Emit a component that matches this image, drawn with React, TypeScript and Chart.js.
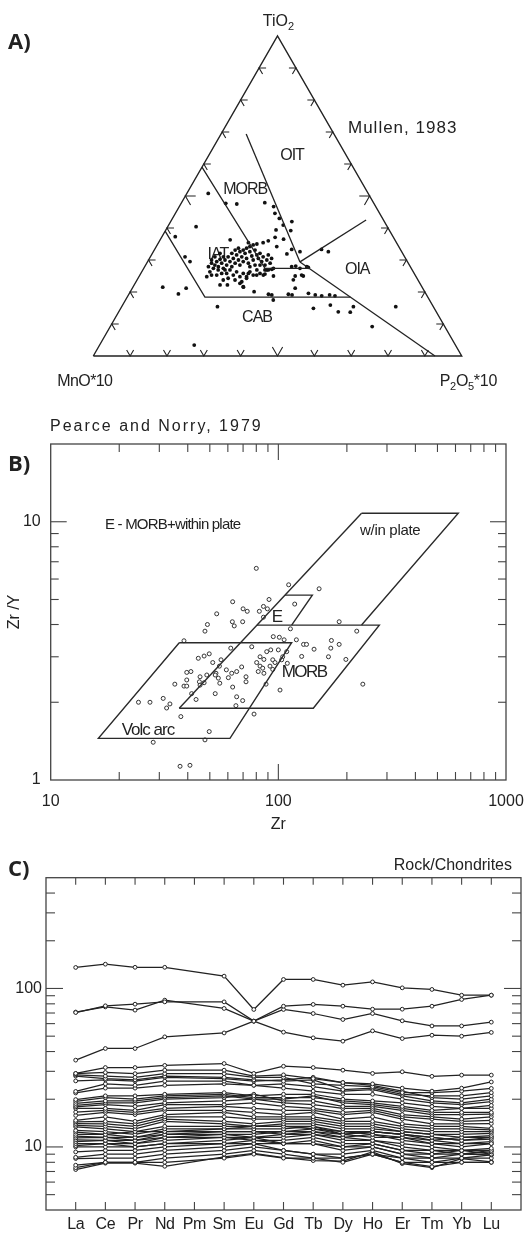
import React, { useEffect, useRef } from "react";
import { Chart, registerables } from "chart.js";

Chart.register(...registerables);

const PAGE_W = 527;
const SQ = Math.sqrt(3) / 2;
const INK = "#222222";
const SANS = '"Liberation Sans", Arial, Helvetica, sans-serif';
const LETTER_FONT = '"Open Sans", "Liberation Sans", sans-serif';

/* ---------------- Panel A : Mullen (1983) TiO2 - MnO*10 - P2O5*10 ---------------- */
// sample compositions, percent of TiO2 and P2O5*10 (MnO*10 = 100 - both)
const mullenTiO2 = [
  50.8, 47.7, 47.5, 47.9, 46.7, 44.6, 43.0, 42.0, 40.9, 39.4, 39.2, 40.4, 37.3, 37.1, 36.0, 36.5, 34.2, 35.4, 35.0, 35.4,
  36.3, 33.3, 32.6, 33.3, 32.6, 31.0, 29.5, 31.9, 27.7, 25.0, 28.1, 25.0, 27.1, 25.0, 25.6, 21.5, 19.4, 21.2, 22.2, 22.2,
  21.5, 20.1, 21.2, 19.1, 19.1, 19.1, 18.8, 19.1, 18.8, 17.5, 15.4, 14.9, 15.9, 15.4, 15.4, 9.2, 13.7, 13.8, 3.4, 19.3,
  19.3, 19.6, 23.8, 25.3, 23.2, 24.8, 25.8, 25.3, 25.3, 26.9, 27.4, 27.9, 27.4, 27.9,
  24.8, 26.3, 27.9, 29.0, 27.4, 28.4, 29.5, 27.9, 30.2, 29.0, 27.4, 30.0, 28.4, 31.0, 29.5, 27.9, 30.5, 29.0, 31.6, 30.0,
  28.4, 31.0, 29.5, 32.1, 30.5, 29.0, 32.6, 31.25, 30.0, 33.1, 31.6, 30.5, 32.1, 29.5, 31.0, 28.4, 30.0, 31.6, 29.0, 30.5,
  32.6, 33.1, 33.7, 34.2, 34.7, 25.8, 26.9, 25.3, 26.3, 24.8, 25.8, 24.3, 26.3, 25.3, 26.9, 25.8, 25.3, 25.8, 23.75, 24.3,
  23.75, 22.7, 21.7, 32.1, 31.0, 31.0, 26.9, 25.3, 26.9, 32.1, 33.1, 33.7, 27.9, 28.4, 28.4, 26.9, 26.9, 30.0,
];
const mullenP2O5 = [
  5.8, 12.1, 15.2, 22.6, 25.6, 27.0, 29.0, 32.9, 31.1, 29.9, 34.0, 7.7, 3.6, 30.8, 29.5, 33.4, 32.7, 28.4, 26.9, 24.4,
  19.0, 37.2, 39.8, 45.3, 47.5, 9.4, 11.5, 36.6, 44.5, 44.5, 40.9, 42.3, 34.9, 36.4, 33.8, 8.1, 13.4, 14.6, 23.3, 25.3,
  30.0, 33.6, 44.2, 38.9, 44.4, 50.7, 52.6, 54.6, 56.2, 40.1, 26.0, 52.3, 56.4, 62.9, 74.4, 71.1, 62.9, 59.6, 25.7, 37.9,
  43.3, 48.6, 42.4, 43.9, 28.7, 29.2, 29.2, 31.7, 33.5, 33.6, 35.2, 39.9, 42.4, 44.0,
  18.4, 18.5, 17.3, 17.6, 18.9, 18.8, 18.75, 20.0, 19.3, 20.35, 21.6, 20.75, 22.0, 21.1, 22.35, 23.65, 22.75, 24.0, 23.1, 24.4,
  25.6, 24.8, 25.95, 25.15, 26.35, 27.6, 26.2, 27.4, 28.4, 27.35, 28.6, 29.55, 29.2, 30.95, 30.6, 32.4, 32.1, 31.7, 33.5, 33.15,
  23.5, 24.15, 24.75, 25.4, 26.05, 23.3, 23.65, 25.35, 25.75, 27.4, 27.8, 29.45, 29.35, 30.75, 30.95, 32.35, 20.85, 21.95, 23.4, 24.45,
  26.6, 28.45, 29.85, 18.35, 19.8, 17.5, 20.45, 19.45, 22.3, 21.55, 21.95, 22.55, 28.55, 29.7, 31.05, 33.15, 34.05, 17.1,
];
// field boundaries as [TiO2 %, P2O5*10 %]
const mullenOitMorb = [[69.4, 6.8], [29.4, 41.4]];
const mullenOitOia = [[29.4, 41.4], [42.5, 52.8]];
const mullenOiaCab = [[29.4, 41.4], [0, 92.75]];
const mullenMorbIat = [[59, 0], [27.4, 32.9], [27.4, 44.9]];
const mullenIatCab = [[39, 0], [18.4, 21.1], [18.4, 60.6]];
const mullenFieldNames = ["OIT", "MORB", "IAT", "OIA", "CAB"];
const mullenFieldTiO2 = [62.5, 51.9, 31.6, 26.9, 11.9];
const mullenFieldP2O5 = [22.7, 15.3, 18.0, 58.2, 38.5];
const ternTickPct = [10, 20, 30, 40, 50, 60, 70, 80, 90];

/* ---------------- Panel B : Pearce & Norry (1979) Zr/Y vs Zr ---------------- */
const zrPpm = [
  80, 111, 151, 63, 70, 73, 91, 86, 89.5, 82.5, 118, 53.6, 62.8, 69.7, 64, 48.8, 47.6, 86, 113, 185,
  221, 38.5, 95, 101, 106, 120, 129, 133, 171, 185, 143.5, 170, 76.4, 61.8, 88.9, 92.6, 100, 108.8, 104.5, 126.6,
  166, 198, 83.1, 86.4, 94.5, 96.7, 80.3, 83.1, 85.4, 81.6, 86.4, 91.9, 94.5, 103.4, 109.5, 49.7, 47.2, 44.5, 51.5, 56,
  55.1, 53.2, 59.1, 62.4, 60.3, 69, 65.6, 72.1, 72.1, 63, 52.8, 54.5, 55.3, 45.3, 45, 48.5, 41.3, 39.6, 39.6, 38.5,
  39.6, 35.1, 45.3, 47.2, 41.6, 52.8, 43.5, 65.6, 69.7, 65.1, 88.3, 101.7, 235, 24.3, 27.3, 31.2, 33.4, 32.3, 37.3, 78.2,
  49.7, 47.6, 28.2, 37, 40.9,
];
const zrOverY = [
  6.6, 5.7, 5.5, 4.9, 4.6, 4.5, 5.0, 4.7, 4.6, 4.5, 4.8, 4.4, 4.1, 4.1, 3.95, 4.0, 3.77, 4.27, 3.85, 4.1,
  3.77, 3.46, 3.59, 3.57, 3.49, 3.49, 3.35, 3.35, 3.47, 3.35, 3.21, 3.24, 3.28, 3.24, 3.14, 3.19, 3.19, 3.14, 3.0, 3.01,
  3.0, 2.93, 3.0, 2.93, 2.92, 2.85, 2.85, 2.76, 2.71, 2.63, 2.59, 2.76, 2.68, 2.92, 2.83, 3.08, 3.02, 2.96, 2.85, 2.92,
  2.76, 2.59, 2.67, 2.59, 2.49, 2.74, 2.63, 2.51, 2.40, 2.29, 2.55, 2.48, 2.37, 2.51, 2.40, 2.55, 2.63, 2.61, 2.44, 2.31,
  2.31, 2.35, 2.33, 2.38, 2.16, 2.16, 2.05, 2.10, 2.03, 1.94, 2.35, 2.23, 2.35, 2.0, 2.0, 2.07, 1.97, 1.90, 1.76, 1.80,
  1.54, 1.43, 1.40, 1.13, 1.14,
];
// field boundaries as [Zr ppm, Zr/Y]
const pnLongEdge = [[36.7, 1.896], [232, 10.78]];
const pnWithinPlate = [[232, 10.78], [617, 10.78], [232, 3.98]];
const pnMorb = [[80.5, 3.98], [277.6, 3.98], [142.4, 1.896], [36.7, 1.896]];
const pnEField = [[107, 5.2], [141, 5.2], [114.4, 3.98]];
const pnVolcArc = [[36.7, 3.4], [114.4, 3.4], [61.3, 1.45], [16.2, 1.45], [36.7, 3.4]];
const zrTicks = [20, 30, 40, 50, 60, 70, 80, 90, 100, 200, 300, 400, 500, 600, 700, 800, 900];
const zrYTicks = [2, 3, 4, 5, 6, 7, 8, 9, 10];
const zrLabels = [10, 100, 1000];
const zrYLabels = [1, 10];

/* ---------------- Panel C : REE normalised to chondrites ---------------- */
const reeElements = ["La", "Ce", "Pr", "Nd", "Pm", "Sm", "Eu", "Gd", "Tb", "Dy", "Ho", "Er", "Tm", "Yb", "Lu"];
// values for La Ce Pr Nd Sm Eu Gd Tb Dy Ho Er Tm Yb Lu (Pm not analysed)
const reeHigh = [
  [135.7, 142.3, 136, 136, 119.6, 73.7, 114, 114, 104.9, 110, 100.9, 98.6, 90.7, 90.7],
  [70.5, 77.7, 79.6, 82.3, 82.3, 62.2, 77.3, 79.3, 77.3, 74, 74, 77.3, 85.2, 90.7],
  [71, 76.5, 73, 84.4, 74.8, 62.2, 53, 48.8, 46.5, 54, 48.3, 50.7, 50, 52.8],
  [35.3, 41.8, 41.8, 49.5, 52.4, 62.2, 73.7, 69.5, 63.7, 69.5, 62.5, 58, 58, 61.3],
  [29.1, 31.7, 31.7, 32.7, 33.6, 29.1, 32.3, 31.7, 30.5, 29.1, 29.8, 27.9, 28.4, 28.4],
];
const reeLow = [
  [29.0, 29.5, 29.0, 30.5, 30.5, 28.0, 28.5, 27.0, 25.5, 25.0, 23.5, 22.5, 23.5, 25.7],
  [28.5, 28.0, 27.5, 29.0, 29.0, 27.5, 27.5, 25.0, 24.5, 24.0, 22.0, 22.0, 22.5, 23.4],
  [28.0, 27.0, 26.5, 28.0, 27.5, 26.5, 26.0, 26.5, 23.0, 23.5, 21.5, 21.0, 21.0, 22.0],
  [26.1, 26.5, 26.0, 27.5, 27.0, 26.0, 26.5, 27.5, 25.5, 24.5, 22.5, 20.5, 20.0, 21.0],
  [22.4, 25.0, 24.5, 26.0, 26.0, 24.5, 25.0, 24.0, 22.5, 23.0, 21.0, 19.5, 19.0, 20.0],
  [21.9, 23.5, 23.5, 24.5, 25.0, 24.5, 23.5, 22.5, 21.5, 21.5, 20.0, 19.0, 18.5, 19.3],
  [19.9, 21.0, 21.0, 21.5, 22.0, 21.0, 21.5, 21.5, 20.0, 19.5, 19.0, 18.0, 17.5, 18.3],
  [19.4, 20.5, 20.0, 21.0, 21.5, 20.5, 20.5, 20.5, 19.5, 19.0, 18.0, 17.0, 17.5, 17.5],
  [18.8, 19.5, 19.5, 20.5, 21.0, 20.0, 20.0, 21.0, 19.0, 18.5, 17.5, 16.5, 16.5, 16.5],
  [18.3, 19.0, 19.0, 20.0, 20.5, 21.5, 19.5, 19.5, 18.0, 18.0, 17.0, 16.0, 16.0, 16.1],
  [17.9, 18.5, 18.0, 19.0, 19.5, 20.0, 19.0, 18.5, 17.5, 17.5, 16.0, 15.5, 15.0, 15.5],
  [17.5, 17.5, 17.0, 18.5, 18.5, 19.0, 18.0, 17.5, 16.5, 17.0, 15.5, 15.0, 14.5, 14.7],
  [16.6, 17.0, 16.5, 17.5, 18.0, 17.5, 17.0, 17.0, 16.0, 16.5, 15.0, 14.0, 14.0, 14.05],
  [15.8, 16.5, 16.0, 17.0, 17.0, 16.5, 16.0, 16.5, 15.0, 15.5, 14.0, 13.5, 13.5, 13.1],
  [14.7, 15.5, 14.5, 16.0, 16.5, 15.5, 15.5, 15.5, 14.5, 14.5, 13.5, 13.0, 13.0, 12.8],
  [14.4, 14.5, 14.0, 15.5, 15.5, 15.0, 15.0, 15.0, 14.0, 14.0, 13.0, 12.5, 12.5, 12.5],
  [14.05, 14.0, 13.5, 15.0, 14.5, 14.0, 14.5, 14.5, 13.5, 13.5, 12.5, 12.0, 12.0, 12.2],
  [13.7, 13.5, 13.0, 14.5, 14.0, 13.5, 14.0, 14.0, 13.0, 13.0, 12.5, 12.0, 11.5, 11.8],
  [13.4, 13.0, 12.5, 13.5, 13.5, 13.5, 13.5, 13.5, 12.5, 12.5, 12.0, 11.5, 11.0, 11.5],
  [12.7, 12.5, 12.0, 13.0, 13.0, 13.0, 13.0, 13.5, 12.0, 12.5, 12.0, 11.5, 11.0, 11.2],
  [12.4, 12.0, 12.5, 12.5, 13.0, 13.5, 13.5, 13.0, 12.5, 12.0, 11.5, 11.0, 10.5, 10.5],
  [12.0, 12.0, 11.5, 12.5, 12.5, 12.5, 12.5, 13.0, 12.0, 12.5, 12.0, 11.0, 11.5, 11.5],
  [11.7, 11.5, 11.5, 12.0, 12.5, 12.5, 12.0, 12.5, 11.5, 12.0, 11.0, 10.5, 10.5, 10.8],
  [11.4, 11.5, 11.0, 12.0, 12.0, 12.0, 12.5, 12.5, 12.0, 11.5, 11.5, 10.5, 10.0, 10.5],
  [11.1, 11.0, 11.0, 11.5, 12.0, 11.5, 12.0, 12.0, 11.5, 11.0, 10.5, 10.0, 9.5, 9.8],
  [10.8, 11.0, 10.5, 11.5, 11.5, 11.5, 11.5, 12.0, 11.0, 11.0, 10.0, 9.5, 9.5, 9.5],
  [10.5, 10.5, 10.5, 11.0, 11.5, 11.0, 11.0, 11.5, 10.5, 10.5, 9.5, 9.5, 9.0, 9.3],
  [10.2, 10.5, 10.0, 10.5, 11.0, 11.5, 10.5, 11.0, 10.0, 10.5, 9.5, 9.0, 9.5, 9.0],
  [10.0, 10.0, 10.0, 10.5, 10.5, 10.5, 10.5, 10.5, 10.0, 10.0, 9.0, 9.0, 9.0, 8.9],
  [9.3, 9.5, 9.5, 10.0, 10.5, 11.0, 10.5, 10.5, 9.5, 10.0, 9.0, 8.5, 9.0, 9.5],
  [8.6, 9.0, 9.0, 9.5, 10.0, 10.5, 9.5, 9.0, 9.0, 9.5, 8.5, 8.5, 8.5, 8.5],
  [8.45, 8.5, 8.5, 9.0, 9.5, 10.0, 9.5, 9.0, 8.5, 9.0, 8.5, 8.0, 8.5, 8.9],
  [7.67, 8.0, 8.0, 8.5, 9.0, 9.5, 9.0, 8.5, 8.5, 9.0, 8.0, 8.0, 8.0, 8.0],
  [7.4, 8.0, 8.0, 8.0, 8.5, 9.0, 8.5, 8.5, 8.0, 9.0, 8.0, 7.5, 8.0, 8.0],
  [7.2, 7.9, 7.9, 7.55, 8.65, 9.1, 8.55, 8.2, 8.15, 9.3, 7.85, 7.4, 8.45, 8.05],
];
const reeYTicks = [5, 6, 7, 8, 9, 10, 20, 30, 40, 50, 60, 70, 80, 90, 100, 200, 300, 400];
const reeYLabels = [10, 100];

/* ---------------- helpers ---------------- */
type TextOpts = {
  size?: number; bold?: boolean; family?: string; align?: CanvasTextAlign;
  baseline?: CanvasTextBaseline; spacing?: number; color?: string;
};
function drawText(ctx: CanvasRenderingContext2D, s: string, x: number, y: number, o: TextOpts = {}) {
  ctx.save();
  ctx.font = `${o.bold ? "bold " : ""}${o.size ?? 16}px ${o.family ?? SANS}`;
  ctx.textAlign = o.align ?? "left";
  ctx.textBaseline = o.baseline ?? "alphabetic";
  (ctx as any).letterSpacing = `${o.spacing ?? 0}px`;
  ctx.fillStyle = o.color ?? INK;
  ctx.fillText(s, x, y);
  ctx.restore();
}
function drawRich(ctx: CanvasRenderingContext2D, parts: [string, boolean][], x: number, y: number, size: number, align: "left" | "center" = "left", spacing = 0) {
  ctx.save();
  ctx.textAlign = "left";
  ctx.textBaseline = "alphabetic";
  (ctx as any).letterSpacing = `${spacing}px`;
  ctx.fillStyle = INK;
  const sub = Math.round(size * 0.7);
  let w = 0;
  for (const [t, s] of parts) {
    ctx.font = `${s ? sub : size}px ${SANS}`;
    w += ctx.measureText(t).width;
  }
  let cx = align === "center" ? x - w / 2 : x;
  for (const [t, s] of parts) {
    ctx.font = `${s ? sub : size}px ${SANS}`;
    ctx.fillText(t, cx, s ? y + size * 0.28 : y);
    cx += ctx.measureText(t).width;
  }
  ctx.restore();
}
function seg(ctx: CanvasRenderingContext2D, x1: number, y1: number, x2: number, y2: number) {
  ctx.beginPath();
  ctx.moveTo(x1, y1);
  ctx.lineTo(x2, y2);
  ctx.stroke();
}
function tern(t: number, p: number) {
  return { x: (p + t / 2) / 100, y: (t / 100) * SQ };
}
const baseOptions = (padding: any, scales: any) => ({
  responsive: false,
  animation: false,
  events: [],
  devicePixelRatio: 1,
  layout: { padding },
  scales,
  plugins: { legend: { display: false }, tooltip: { enabled: false } },
});

/* ---------------- Panel A config ---------------- */
const annotA = {
  id: "annotA",
  beforeDatasetsDraw(chart: any) {
    const { ctx } = chart;
    const { x, y } = chart.scales;
    mullenFieldNames.forEach((name, i) => {
      const p = tern(mullenFieldTiO2[i], mullenFieldP2O5[i]);
      drawText(ctx, name, x.getPixelForValue(p.x), y.getPixelForValue(p.y), { size: 16, align: "center", baseline: "middle", spacing: -1 });
    });
  },
  afterDraw(chart: any) {
    const { ctx } = chart;
    const { x, y } = chart.scales;
    const apexX = x.getPixelForValue(0.5), apexY = y.getPixelForValue(SQ);
    const baseY = y.getPixelForValue(0);
    drawRich(ctx, [["TiO", false], ["2", true]], apexX + 1, apexY - 10, 16, "center");
    drawText(ctx, "MnO*10", x.getPixelForValue(0) - 36, baseY + 30, { size: 16, spacing: -0.6 });
    drawRich(ctx, [["P", false], ["2", true], ["O", false], ["5", true], ["*10", false]], x.getPixelForValue(1) - 22, baseY + 30, 16, "left", -0.3);
    drawText(ctx, "Mullen, 1983", 348, 133, { size: 17, spacing: 1 });
    drawText(ctx, "A)", 8, 49, { size: 22, bold: true, family: LETTER_FONT });
  },
};
function buildA() {
  const lineSet = (pts: any[], w = 1.3) => ({
    data: pts, showLine: true, borderColor: INK, borderWidth: w, pointRadius: 0, pointHoverRadius: 0, clip: false, spanGaps: false,
  });
  const pairs = (arr: number[][]) => arr.map(([t, p]) => tern(t, p));
  const gap = { x: 0, y: null };
  const tickPts: any[] = [];
  ternTickPct.forEach((f) => {
    const L = f === 50 ? 0.028 : 0.019;
    const b = tern(0, f);
    tickPts.push({ x: b.x - 0.5 * L, y: b.y + SQ * L }, b, { x: b.x + 0.5 * L, y: b.y + SQ * L }, gap);
    const l = tern(f, 0);
    tickPts.push({ x: l.x + L, y: l.y }, l, { x: l.x + 0.5 * L, y: l.y - SQ * L }, gap);
    const r = tern(f, 100 - f);
    tickPts.push({ x: r.x - L, y: r.y }, r, { x: r.x - 0.5 * L, y: r.y - SQ * L }, gap);
  });
  return {
    type: "scatter",
    data: {
      datasets: [
        lineSet([tern(0, 0), tern(100, 0), tern(0, 100), tern(0, 0)], 1.4),
        lineSet(tickPts, 1.1),
        lineSet(pairs(mullenOitMorb)),
        lineSet(pairs(mullenOitOia)),
        lineSet(pairs(mullenOiaCab)),
        lineSet(pairs(mullenMorbIat)),
        lineSet(pairs(mullenIatCab)),
        {
          data: mullenTiO2.map((t, i) => tern(t, mullenP2O5[i])),
          showLine: false, pointRadius: 1.9, pointBackgroundColor: "#111", pointBorderWidth: 0, clip: false,
        },
      ],
    },
    options: baseOptions(
      { left: 93.3, right: PAGE_W - 461.7, top: 36, bottom: 400 - 356 },
      { x: { type: "linear", min: 0, max: 1, display: false }, y: { type: "linear", min: 0, max: SQ, display: false } }
    ),
    plugins: [annotA],
  };
}

/* ---------------- Panel B config ---------------- */
const annotB = {
  id: "annotB",
  afterDraw(chart: any) {
    const { ctx, chartArea } = chart;
    const { left, right, top, bottom } = chartArea;
    const xs = chart.scales.x, ys = chart.scales.y;
    ctx.save();
    ctx.strokeStyle = "#444";
    ctx.lineWidth = 1.3;
    ctx.strokeRect(left, top, right - left, bottom - top);
    ctx.lineWidth = 1.1;
    zrTicks.forEach((v) => {
      const px = xs.getPixelForValue(v);
      const len = v === 100 ? 16 : 8;
      seg(ctx, px, bottom, px, bottom - len);
      seg(ctx, px, top, px, top + len);
    });
    zrYTicks.forEach((v) => {
      const py = ys.getPixelForValue(v);
      const len = v === 10 ? 16 : 8;
      seg(ctx, left, py, left + len, py);
      seg(ctx, right, py, right - len, py);
    });
    ctx.restore();
    zrLabels.forEach((v) => drawText(ctx, String(v), xs.getPixelForValue(v), bottom + 22, { size: 16, align: "center", baseline: "middle" }));
    zrYLabels.forEach((v) => drawText(ctx, String(v), left - 10, ys.getPixelForValue(v), { size: 16, align: "right", baseline: "middle" }));
    drawText(ctx, "Zr", xs.getPixelForValue(100), bottom + 45, { size: 16, align: "center", baseline: "middle" });
    ctx.save();
    ctx.translate(15, (top + bottom) / 2);
    ctx.rotate(-Math.PI / 2);
    drawText(ctx, "Zr /Y", 0, 0, { size: 16, align: "center", baseline: "middle" });
    ctx.restore();
    drawText(ctx, "Pearce and Norry, 1979", 50, 30.7, { size: 16, spacing: 2 });
    drawText(ctx, "B)", 8, 70.7, { size: 22, bold: true, family: LETTER_FONT });
    drawText(ctx, "E - MORB+within plate", 105, 129.3, { size: 15, spacing: -0.8 });
    drawText(ctx, "w/in plate", 360, 135, { size: 15, spacing: -0.3 });
    drawText(ctx, "E", 271.7, 221.7, { size: 17 });
    drawText(ctx, "MORB", 281.7, 276.7, { size: 17, spacing: -1.5 });
    drawText(ctx, "Volc arc", 121.7, 335, { size: 17, spacing: -1 });
  },
};
function buildB() {
  const pts = (arr: number[][]) => arr.map(([a, b]) => ({ x: a, y: b }));
  const fieldLine = (arr: number[][]) => ({
    data: pts(arr), showLine: true, borderColor: "#2a2a2a", borderWidth: 1.4, pointRadius: 0, pointHoverRadius: 0, clip: false,
  });
  return {
    type: "scatter",
    data: {
      datasets: [
        fieldLine(pnLongEdge),
        fieldLine(pnWithinPlate),
        fieldLine(pnMorb),
        fieldLine(pnEField),
        fieldLine(pnVolcArc),
        {
          data: zrPpm.map((z, i) => ({ x: z, y: zrOverY[i] })),
          showLine: false, pointRadius: 2, pointBorderWidth: 1, pointBorderColor: "#333", pointBackgroundColor: "#fff", clip: false,
        },
      ],
    },
    options: baseOptions(
      { left: 50.7, right: PAGE_W - 506, top: 44, bottom: 60 },
      {
        x: { type: "logarithmic", min: 10, max: 1000, display: false },
        y: { type: "logarithmic", min: 1, max: 20, display: false },
      }
    ),
    plugins: [annotB],
  };
}

/* ---------------- Panel C config ---------------- */
const annotC = {
  id: "annotC",
  afterDraw(chart: any) {
    const { ctx, chartArea } = chart;
    const { left, right, top, bottom } = chartArea;
    const xs = chart.scales.x, ys = chart.scales.y;
    ctx.save();
    ctx.strokeStyle = "#444";
    ctx.lineWidth = 1.3;
    ctx.strokeRect(left, top, right - left, bottom - top);
    ctx.lineWidth = 1.1;
    reeElements.forEach((_, i) => {
      const px = xs.getPixelForValue(i + 1);
      seg(ctx, px, bottom, px, bottom - 8);
      seg(ctx, px, top, px, top + 7);
    });
    reeYTicks.forEach((v) => {
      const py = ys.getPixelForValue(v);
      const len = v === 10 || v === 100 ? 17 : 9;
      seg(ctx, left, py, left + len, py);
      seg(ctx, right, py, right - len, py);
    });
    ctx.restore();
    reeElements.forEach((el, i) => drawText(ctx, el, xs.getPixelForValue(i + 1), 389, { size: 16, align: "center", spacing: -0.4 }));
    reeYLabels.forEach((v) => drawText(ctx, String(v), 42, ys.getPixelForValue(v), { size: 16, align: "right", baseline: "middle" }));
    drawText(ctx, "Rock/Chondrites", 512, 30, { size: 16, align: "right" });
    drawText(ctx, "C)", 8, 35.7, { size: 22, bold: true, family: LETTER_FONT });
  },
};
function reePoints(vals: number[]) {
  let k = 0;
  return reeElements.map((el, i) => (el === "Pm" ? { x: i + 1, y: null } : { x: i + 1, y: vals[k++] }));
}
function buildC() {
  const series = [...reeHigh, ...reeLow].map((vals) => ({
    data: reePoints(vals),
    showLine: true,
    spanGaps: true,
    borderColor: "#222",
    borderWidth: 1.25,
    pointRadius: 1.9,
    pointBorderWidth: 1,
    pointBorderColor: "#222",
    pointBackgroundColor: "#fff",
    clip: false,
  }));
  return {
    type: "scatter",
    data: { datasets: series },
    options: baseOptions(
      { left: 46, right: PAGE_W - 521, top: 37.7, bottom: 25 },
      {
        x: { type: "linear", min: 0, max: 16, display: false },
        y: { type: "logarithmic", min: 4, max: 500, display: false },
      }
    ),
    plugins: [annotC],
  };
}

/* ---------------- components ---------------- */
function ChartPanel({ top, height, build }: { top: number; height: number; build: () => any }) {
  const ref = useRef<HTMLCanvasElement | null>(null);
  useEffect(() => {
    if (!ref.current) return;
    const chart = new Chart(ref.current, build());
    return () => chart.destroy();
  }, [build]);
  return (
    <canvas
      ref={ref}
      width={PAGE_W}
      height={height}
      style={{ position: "absolute", left: 0, top, width: PAGE_W, height, display: "block" }}
    />
  );
}

export default function App() {
  return (
    <div style={{ position: "absolute", left: 0, top: 0, width: PAGE_W, height: 1235, background: "#fff", overflow: "hidden" }}>
      <ChartPanel top={0} height={400} build={buildA} />
      <ChartPanel top={400} height={440} build={buildB} />
      <ChartPanel top={840} height={395} build={buildC} />
    </div>
  );
}
